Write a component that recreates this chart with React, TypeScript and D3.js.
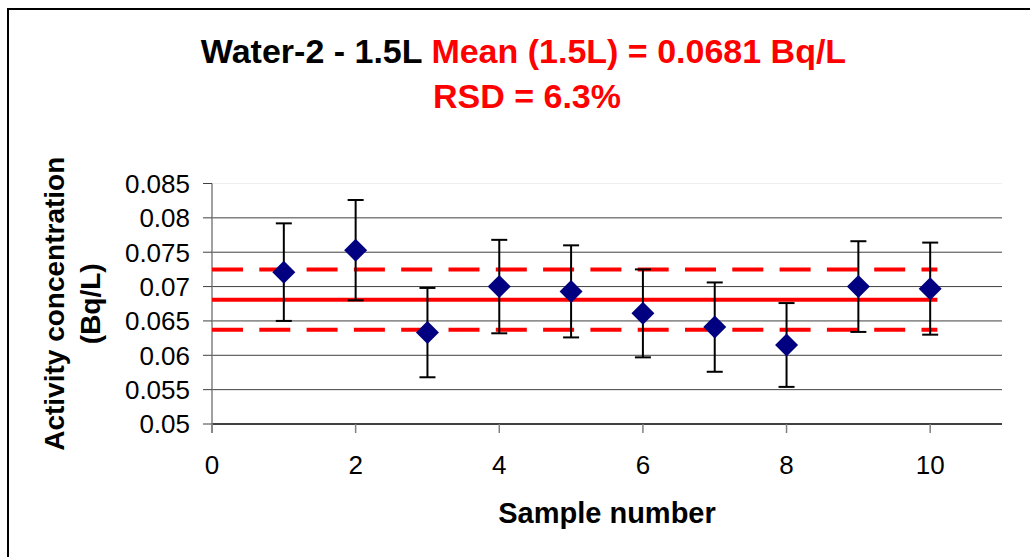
import React from "react";
import * as d3 from "d3";

const samples = [1, 2, 3, 4, 5, 6, 7, 8, 9, 10];
const values = [0.0721, 0.0753, 0.0633, 0.07, 0.0693, 0.0661, 0.0641, 0.0615, 0.07, 0.0697];
const errors = [0.0071, 0.0073, 0.0065, 0.0068, 0.0067, 0.0064, 0.0065, 0.0061, 0.0066, 0.0067];
const meanValue = 0.0681;
const upperLimit = 0.0725;
const lowerLimit = 0.0637;
const refLineX = [0, 10.1];
const yTicks = [0.05, 0.055, 0.06, 0.065, 0.07, 0.075, 0.08, 0.085];
const yTickLabels = ["0.05", "0.055", "0.06", "0.065", "0.07", "0.075", "0.08", "0.085"];
const xTicks = [0, 2, 4, 6, 8, 10];
const titleBlack = "Water-2 - 1.5L ";
const titleRed = "Mean (1.5L) = 0.0681 Bq/L";
const titleLine2 = "RSD = 6.3%";
const xTitle = "Sample number";
const yTitleLines = ["Activity concentration", "(Bq/L)"];

const W = 1030;
const H = 557;
const FONT = "'Liberation Sans', Arial, Helvetica, sans-serif";

export default function App() {
  const x = d3.scaleLinear().domain([0, 11]).range([212, 1002]);
  const y = d3.scaleLinear().domain([0.05, 0.085]).range([424, 183.5]);
  const line = d3
    .line<[number, number]>()
    .x((d) => x(d[0]))
    .y((d) => y(d[1]));
  const refLine = (v: number) => line(refLineX.map((xx) => [xx, v] as [number, number])) || "";
  const diamond = (cx: number, cy: number, r: number) =>
    `M${cx},${cy - r}L${cx + r},${cy}L${cx},${cy + r}L${cx - r},${cy}Z`;
  const cx = (212 + 1002) / 2;

  return (
    <svg
      width={W}
      height={H}
      style={{ position: "absolute", left: 0, top: 0, background: "#fff" }}
      fontFamily={FONT}
    >
      <rect x={0} y={0} width={W} height={H} fill="#fff" />
      <rect x={8} y={9} width={W + 20} height={H + 20} fill="#fff" stroke="#000" strokeWidth={2} />

      {/* title */}
      <text x={523.5} y={62.5} textAnchor="middle" fontSize={34} fontWeight="bold">
        <tspan fill="#000">{titleBlack}</tspan>
        <tspan fill="#ff0000">{titleRed}</tspan>
      </text>
      <text x={527} y={108} textAnchor="middle" fontSize={34} fontWeight="bold" fill="#ff0000">
        {titleLine2}
      </text>

      {/* gridlines */}
      {yTicks.map((t, i) => (
        <line
          key={"g" + i}
          x1={x(0)}
          x2={x(11)}
          y1={y(t)}
          y2={y(t)}
          stroke={i === 0 ? "#000" : i === yTicks.length - 1 ? "#eeeeee" : "#404040"}
          strokeWidth={i === 0 ? 1.5 : 1}
        />
      ))}

      {/* y axis */}
      <line x1={x(0)} x2={x(0)} y1={y(0.085)} y2={y(0.05) + 9} stroke="#808080" strokeWidth={1.5} />
      {yTicks.map((t, i) => (
        <g key={"yt" + i}>
          <line x1={x(0) - 9} x2={x(0)} y1={y(t)} y2={y(t)} stroke="#404040" strokeWidth={1} />
          <text x={190} y={y(t)} dy="0.36em" textAnchor="end" fontSize={26} fill="#000">
            {yTickLabels[i]}
          </text>
        </g>
      ))}

      {/* x axis ticks */}
      {xTicks.map((t, i) => (
        <g key={"xt" + i}>
          <line x1={x(t)} x2={x(t)} y1={y(0.05)} y2={y(0.05) + 9} stroke="#808080" strokeWidth={1.5} />
          <text x={x(t)} y={474} textAnchor="middle" fontSize={26} fill="#000">
            {t}
          </text>
        </g>
      ))}

      {/* axis titles */}
      <text x={cx} y={523} textAnchor="middle" fontSize={29} fontWeight="bold">
        {xTitle}
      </text>
      <g transform={`translate(0, ${(y(0.05) + y(0.085)) / 2}) rotate(-90)`}>
        <text x={0} y={64} textAnchor="middle" fontSize={28} fontWeight="bold">
          {yTitleLines[0]}
        </text>
        <text x={0} y={100} textAnchor="middle" fontSize={28} fontWeight="bold">
          {yTitleLines[1]}
        </text>
      </g>

      {/* reference lines */}
      <path d={refLine(meanValue)} stroke="#ff0000" strokeWidth={4} fill="none" />
      <path d={refLine(upperLimit)} stroke="#ff0000" strokeWidth={4} fill="none" strokeDasharray="31,16.3" />
      <path d={refLine(lowerLimit)} stroke="#ff0000" strokeWidth={4} fill="none" strokeDasharray="31,16.3" />

      {/* error bars */}
      {samples.map((s, i) => {
        const px = x(s);
        const top = y(values[i] + errors[i]);
        const bot = y(values[i] - errors[i]);
        return (
          <g key={"e" + i} stroke="#000" strokeWidth={2}>
            <line x1={px} x2={px} y1={top} y2={bot} />
            <line x1={px - 8} x2={px + 8} y1={top} y2={top} />
            <line x1={px - 8} x2={px + 8} y1={bot} y2={bot} />
          </g>
        );
      })}

      {/* points */}
      {samples.map((s, i) => (
        <path key={"p" + i} d={diamond(x(s), y(values[i]), 11.5)} fill="#000080" />
      ))}
    </svg>
  );
}
